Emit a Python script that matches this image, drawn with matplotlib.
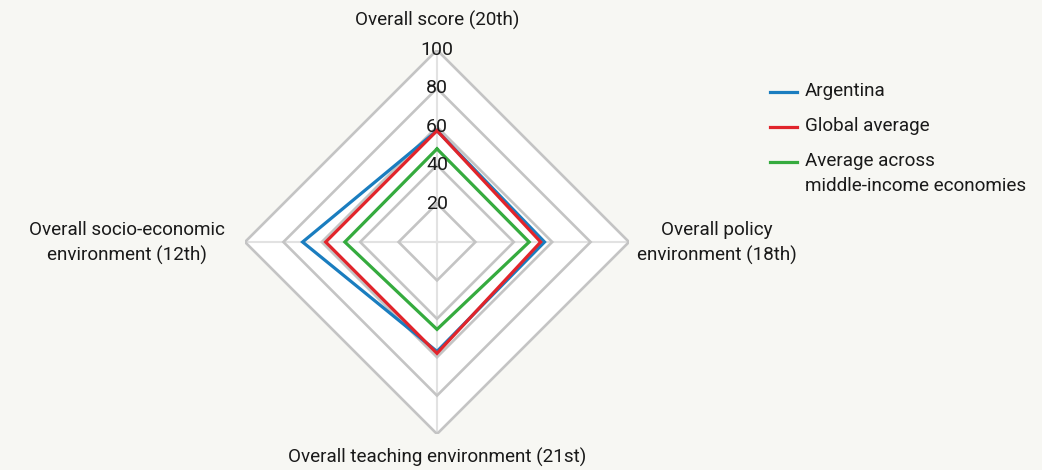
import numpy as np
import matplotlib
matplotlib.use("Agg")
import matplotlib.pyplot as plt
from matplotlib.lines import Line2D

plt.rcParams['font.family'] = ['Roboto', 'DejaVu Sans']

# ── data ──────────────────────────────────────────────
axis_labels = ["Overall score (20th)", "Overall policy\nenvironment (18th)",
               "Overall teaching environment (21st)", "Overall socio-economic\nenvironment (12th)"]
argentina = [58, 56, 57, 70]
global_avg = [58, 54, 58, 58]
middle_income = [48.5, 48, 45.5, 48]
ring_levels = [20, 40, 60, 80, 100]

series = [
    ("Argentina", argentina, "#1a7dbf"),
    ("Global average", global_avg, "#e1242b"),
    ("Average across\nmiddle-income economies", middle_income, "#35ab3e"),
]

BG = "#f7f7f3"
GRID = "#c4c4c4"
SPOKE = "#e2e2e2"
TXT = "#1a1a1a"
FS = 13.6

fig = plt.figure(figsize=(10.42, 4.70), dpi=100, facecolor=BG)
ax = fig.add_axes([245 / 1042, 36 / 470, 384 / 1042, 384 / 470], projection="polar")
ax.set_facecolor(BG)
ax.set_theta_offset(np.pi / 2)
ax.set_theta_direction(-1)
ax.set_ylim(0, 100)
ax.grid(False)
ax.spines["polar"].set_visible(False)
ax.set_xticks([])
ax.set_yticks([])

n = len(axis_labels)
theta = np.linspace(0, 2 * np.pi, n, endpoint=False)
theta_c = np.append(theta, theta[0])

# white interior
ax.fill(theta_c, [ring_levels[-1]] * (n + 1), color="white", zorder=0)

# spokes
for t in theta:
    ax.plot([t, t], [0, ring_levels[-1]], color=SPOKE, lw=1.5, zorder=1)

# rings
for r in ring_levels:
    ax.plot(theta_c, [r] * (n + 1), color=GRID, lw=1.9, zorder=2, solid_joinstyle="miter")

# data (green, blue, red order so red sits above blue)
for name, vals, col in [series[2], series[0], series[1]]:
    v = np.append(vals, vals[0])
    ax.plot(theta_c, v, color=col, lw=2.3, zorder=3, solid_joinstyle="miter")

# ring labels on vertical axis
for r in ring_levels:
    ax.text(0, r, str(r), ha="center", va="center", fontsize=14, color=TXT, zorder=5)

# axis labels
fig.text(437 / 1042, 1 - 20 / 470, axis_labels[0], ha="center", va="center", fontsize=FS, color=TXT)
fig.text(717 / 1042, 1 - 243 / 470, axis_labels[1], ha="center", va="center", fontsize=FS,
         color=TXT, linespacing=1.5)
fig.text(437 / 1042, 1 - 457 / 470, axis_labels[2], ha="center", va="center", fontsize=FS, color=TXT)
fig.text(127 / 1042, 1 - 243 / 470, axis_labels[3], ha="center", va="center", fontsize=FS,
         color=TXT, linespacing=1.5)

# legend
leg_y = [92, 127, 162]
for (name, vals, col), y in zip(series, leg_y):
    fig.add_artist(Line2D([770 / 1042, 797 / 1042], [1 - y / 470, 1 - y / 470],
                          color=col, lw=2.3, transform=fig.transFigure))
    fig.text(805 / 1042, 1 - y / 470 + 10 / 470, name, ha="left", va="top", fontsize=FS,
             color=TXT, linespacing=1.5)

fig.savefig("out.png", dpi=100, facecolor=BG)
